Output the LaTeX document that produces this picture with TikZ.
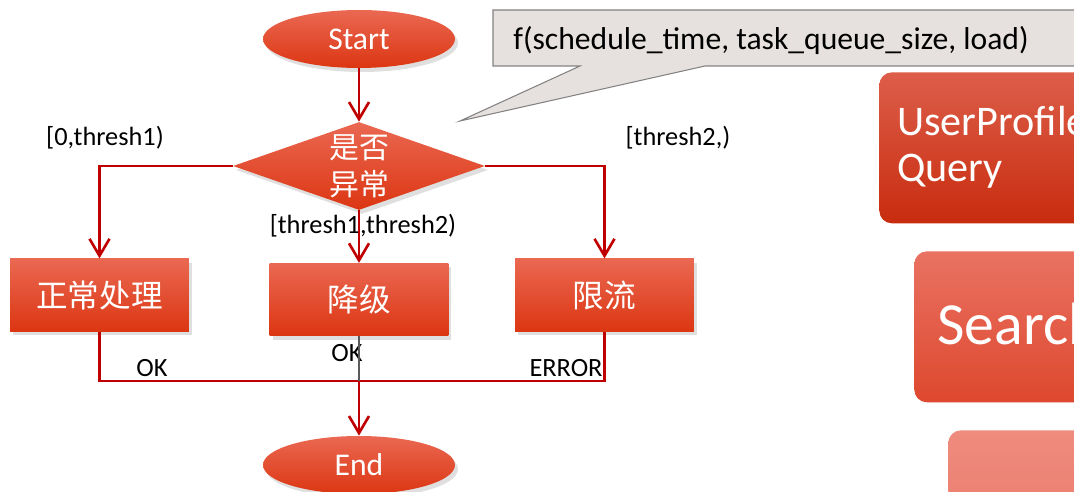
\documentclass[tikz,border=0pt]{standalone}
\usepackage{fontspec}
\setmainfont{Carlito}
\newfontfamily\cjk{Noto Sans CJK SC}
\usepackage{tikz}
\usetikzlibrary{arrows.meta,shapes.geometric,shadows}
\definecolor{flowred}{RGB}{192,0,0}
\definecolor{shapetop}{RGB}{234,104,82}
\definecolor{shapemid}{RGB}{238,72,36}
\definecolor{shapebot}{RGB}{220,54,18}
\definecolor{calloutfill}{RGB}{230,225,222}
\definecolor{calloutline}{RGB}{130,130,130}
\tikzstyle{redfill} = [top color=shapetop, middle color=shapemid, bottom color=shapebot, drop shadow={opacity=0.25, shadow xshift=0.6mm, shadow yshift=-0.8mm}, text=white]
\tikzstyle{terminal} = [ellipse, redfill, minimum width=3.84cm, minimum height=1.16cm, inner sep=0pt, font=\fontsize{18}{20}\selectfont]
\tikzstyle{decision} = [diamond, redfill, aspect=2.86, minimum width=5.04cm, minimum height=1.76cm, inner sep=0pt, align=center, font=\cjk\fontsize{17}{21}\selectfont]
\tikzstyle{process} = [rectangle, redfill, minimum width=3.58cm, minimum height=1.45cm, font=\cjk\fontsize{18}{20}\selectfont]
\tikzstyle{edgetext} = [inner sep=0pt, text=black, font=\fontsize{15}{18}\selectfont]
\tikzstyle{service} = [rectangle, rounded corners=0.25cm, anchor=north west, inner sep=0pt]
\tikzstyle{wire} = [draw, line width=1.5pt, color=flowred]
\tikzstyle{line} = [wire, -{Straight Barb[length=3.4mm,width=4mm]}]

\begin{document}
\begin{tikzpicture}[x=0.02cm, y=-0.02cm]
		\useasboundingbox (0,0) rectangle (1074,492);
		\clip (0,0) rectangle (1074,492);
		% Callout and side boxes
		\draw[fill=calloutfill, draw=calloutline, line width=0.6pt] (493,10) -- (1090,10) -- (1090,66) -- (705,66) -- (460,121) -- (580,66) -- (493,66) -- cycle;
		\node[anchor=west, inner sep=0pt, font=\fontsize{18}{20}\selectfont] (formula) at (513,40) {f(schedule\_time, task\_queue\_size, load)};
		\node[service, top color={rgb,255:red,221;green,94;blue,74}, bottom color={rgb,255:red,200;green,44;blue,14}, minimum width=4.3cm, minimum height=3.02cm] (profile) at (879,72) {};
		\node[anchor=base west, inner sep=0pt, text=white, font=\fontsize{24}{26}\selectfont] (profiletext) at (897,136) {UserProfile};
		\node[anchor=base west, inner sep=0pt, text=white, font=\fontsize{24}{26}\selectfont] (querytext) at (897,182) {Query};
		\node[service, top color={rgb,255:red,233;green,114;blue,98}, bottom color={rgb,255:red,222;green,72;blue,46}, minimum width=3.6cm, minimum height=3.02cm] (search) at (914,251) {};
		\node[anchor=base west, inner sep=0pt, text=white, font=\fontsize{34}{36}\selectfont] (searchtext) at (937,345) {Search};
		\node[service, top color={rgb,255:red,238;green,140;blue,126}, bottom color={rgb,255:red,236;green,124;blue,108}, minimum width=3cm, minimum height=2cm] (third) at (948,430) {};
		% Place nodes
		\node[terminal] (start) at (359,39) {Start};
		\node[decision] (check) at (359,166) {是否\\异常};
		\node[process] (normal) at (99.5,295) {正常处理};
		\node[process] (degrade) at (359,299.5) {降级};
		\node[process] (limit) at (604.5,295) {限流};
		\node[terminal] (finish) at (359,465) {End};
		\coordinate (merge) at (359,381);
		% Branch labels
		\node[edgetext] (low) at (105,138) {[0,thresh1)};
		\node[edgetext] (mid) at (363,226) {[thresh1,thresh2)};
		\node[edgetext] (high) at (678,138) {[thresh2,)};
		\node[edgetext] (okleft) at (152,368) {OK};
		\node[edgetext] (okmid) at (347,353) {OK};
		\node[edgetext] (error) at (566,368) {ERROR};
		% Draw edges
		\path [line] (start) -- (check);
		\path [line] (check.west) -| (normal.north);
		\path [line] (check) -- (degrade);
		\path [line] (check.east) -| (limit.north);
		\path [wire] (normal.south) |- (merge) -| (limit.south);
		\draw [line width=1.5pt, color={rgb,255:red,90;green,90;blue,90}] (degrade.south) -- (merge);
		\path [line] (merge) -- (finish);
	\end{tikzpicture}
\end{document}
